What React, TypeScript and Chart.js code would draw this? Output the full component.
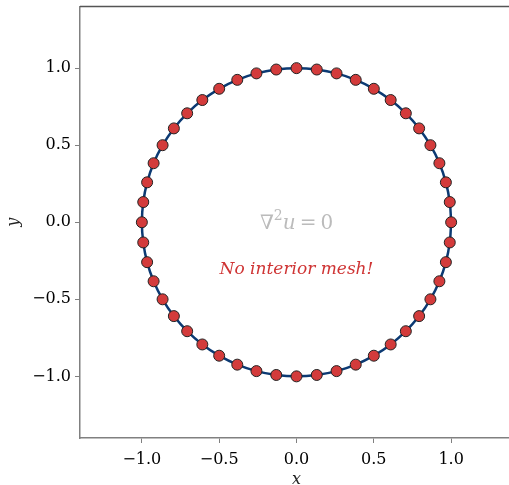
import React, { useEffect, useRef } from "react";
import { Chart, registerables } from "chart.js";

Chart.register(...registerables);

// Boundary node coordinates (48 nodes, counter-clockwise from (1,0))
const boundaryX = [1.0, 0.991, 0.966, 0.924, 0.866, 0.793, 0.707, 0.609, 0.5, 0.383, 0.259, 0.131, 0.0, -0.131, -0.259, -0.383, -0.5, -0.609, -0.707, -0.793, -0.866, -0.924, -0.966, -0.991, -1.0, -0.991, -0.966, -0.924, -0.866, -0.793, -0.707, -0.609, -0.5, -0.383, -0.259, -0.131, 0.0, 0.131, 0.259, 0.383, 0.5, 0.609, 0.707, 0.793, 0.866, 0.924, 0.966, 0.991];
const boundaryY = [0.0, 0.131, 0.259, 0.383, 0.5, 0.609, 0.707, 0.793, 0.866, 0.924, 0.966, 0.991, 1.0, 0.991, 0.966, 0.924, 0.866, 0.793, 0.707, 0.609, 0.5, 0.383, 0.259, 0.131, 0.0, -0.131, -0.259, -0.383, -0.5, -0.609, -0.707, -0.793, -0.866, -0.924, -0.966, -0.991, -1.0, -0.991, -0.966, -0.924, -0.866, -0.793, -0.707, -0.609, -0.5, -0.383, -0.259, -0.131];

const tickValues = [-1.0, -0.5, 0.0, 0.5, 1.0];
const tickLabels = ["\u22121.0", "\u22120.5", "0.0", "0.5", "1.0"];

const axisMin = -1.4;
const axisMax = 1.4;

const equationPos = { x: 0.0, y: -0.01 };
const notePos = { x: 0.0, y: -0.3 };
const noteText = "No interior mesh!";

const SERIF = "'DejaVu Serif', serif";

export default function App() {
  const ref = useRef<HTMLCanvasElement | null>(null);

  useEffect(() => {
    const canvas = ref.current;
    if (!canvas) return;

    const nodes = boundaryX.map((x, i) => ({ x, y: boundaryY[i] }));
    const curve = [...nodes, nodes[0]];

    const spinePlugin = {
      id: "spines",
      afterDraw(chart: any) {
        const { ctx, chartArea } = chart;
        ctx.save();
        ctx.strokeStyle = "#555555";
        ctx.lineWidth = 1.5;
        ctx.beginPath();
        ctx.moveTo(chartArea.left, chartArea.top);
        ctx.lineTo(chartArea.right, chartArea.top);
        ctx.stroke();
        ctx.restore();
      },
    };

    const textPlugin = {
      id: "notes",
      afterDatasetsDraw(chart: any) {
        const { ctx, scales } = chart;
        const xs = scales.x;
        const ys = scales.y;
        ctx.save();
        // equation: ∇²u = 0
        const ex = xs.getPixelForValue(equationPos.x);
        const ey = ys.getPixelForValue(equationPos.y);
        const big = `20px ${SERIF}`;
        const sup = `14px ${SERIF}`;
        const ital = `italic 20px ${SERIF}`;
        const parts = [
          { t: "\u2207", f: big, dy: 0 },
          { t: "2", f: sup, dy: -7 },
          { t: "u", f: ital, dy: 0 },
          { t: "\u2009=\u2009", f: big, dy: 0 },
          { t: "0", f: big, dy: 0 },
        ];
        let total = 0;
        const widths = parts.map((p) => {
          ctx.font = p.f;
          const w = ctx.measureText(p.t).width;
          total += w;
          return w;
        });
        let cx = ex - total / 2;
        ctx.fillStyle = "#bbbbbb";
        ctx.textBaseline = "middle";
        ctx.textAlign = "left";
        parts.forEach((p, i) => {
          ctx.font = p.f;
          ctx.fillText(p.t, cx, ey + p.dy);
          cx += widths[i];
        });
        // note
        ctx.font = `italic 17px ${SERIF}`;
        ctx.fillStyle = "#cf3434";
        ctx.textAlign = "center";
        ctx.fillText(noteText, xs.getPixelForValue(notePos.x), ys.getPixelForValue(notePos.y) + 1);
        ctx.restore();
      },
    };

    const tickFont = { family: SERIF, size: 16 };
    const axisCommon = (isX: boolean) => ({
      type: "linear" as const,
      min: axisMin,
      max: axisMax,
      afterFit: (s: any) => {
        if (isX) {
          s.height = 47;
          s.paddingLeft = 0;
          s.paddingRight = 0;
        } else {
          s.width = 80;
          s.paddingTop = 0;
          s.paddingBottom = 0;
        }
      },
      afterBuildTicks: (s: any) => {
        s.ticks = tickValues.map((v) => ({ value: v }));
      },
      ticks: {
        font: tickFont,
        color: "#000000",
        padding: isX ? 7 : 4,
        maxRotation: 0,
        autoSkip: false,
        callback: (v: any) => {
          const i = tickValues.findIndex((t) => Math.abs(t - v) < 1e-9);
          return i >= 0 ? tickLabels[i] : "";
        },
      },
      grid: {
        display: true,
        drawOnChartArea: false,
        drawTicks: true,
        tickLength: 5,
        color: "#808080",
        lineWidth: 1,
      },
      border: { display: true, color: "#808080", width: 1.5 },
      title: {
        display: true,
        text: isX ? "x" : "y",
        color: "#222222",
        font: { family: SERIF, size: 16, style: "italic" as const },
        padding: isX ? { top: 0, bottom: -4 } : { top: 4, bottom: 0 },
      },
    });

    const chart = new Chart(canvas, {
      type: "scatter",
      data: {
        datasets: [
          {
            label: "boundary",
            data: curve,
            showLine: true,
            borderColor: "#0c3a73",
            borderWidth: 2.5,
            pointRadius: 0,
            tension: 0.4,
            order: 2,
          } as any,
          {
            label: "nodes",
            data: nodes,
            showLine: false,
            pointRadius: 5.5,
            pointBackgroundColor: "#d33b3b",
            pointBorderColor: "#222222",
            pointBorderWidth: 1,
            order: 1,
          } as any,
        ],
      },
      options: {
        responsive: false,
        animation: false,
        devicePixelRatio: 1,
        layout: { padding: { left: 0, top: 6, right: 7, bottom: 0 } },
        plugins: {
          legend: { display: false },
          tooltip: { enabled: false },
          title: { display: false },
        },
        scales: {
          x: axisCommon(true) as any,
          y: axisCommon(false) as any,
        },
      },
      plugins: [spinePlugin, textPlugin],
    });

    return () => chart.destroy();
  }, []);

  return (
    <div
      style={{
        position: "fixed",
        left: 0,
        top: 0,
        width: 509,
        height: 485,
        overflow: "hidden",
        background: "#ffffff",
      }}
    >
      <canvas ref={ref} width={520} height={485} style={{ width: 520, height: 485, display: "block" }} />
    </div>
  );
}
